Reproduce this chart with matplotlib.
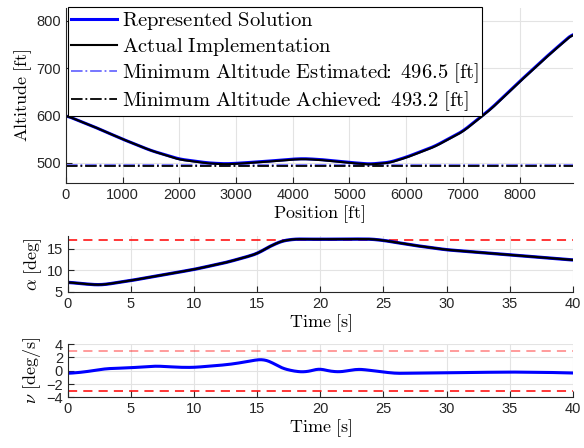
import numpy as np
import matplotlib
matplotlib.use('Agg')
import matplotlib.pyplot as plt

plt.rcParams['mathtext.fontset'] = 'cm'
plt.rcParams['font.family'] = ['Liberation Sans', 'DejaVu Sans']

# altitude vs position
pos = [0, 500, 1000, 1500, 2000, 2500, 2800, 3000, 3500, 4000, 4200, 4500,
       5000, 5350, 5700, 6000, 6500, 7000, 7500, 8000, 8500, 8940]
alt = [600, 576, 550, 526, 508, 500, 498, 499, 503, 508, 509, 507,
       501, 497.5, 501, 512, 535, 567, 615, 672, 727, 773]
alt_act = [600, 576, 550, 526, 507, 499, 497, 498, 502, 507, 508, 506,
           500, 496.5, 500, 511, 534, 566, 614, 671, 726, 772]
min_est = 496.5
min_ach = 493.2

# angle of attack vs time
t_a = [0, 1, 2, 2.5, 3, 5, 7.5, 10, 12.5, 14, 15, 16, 17, 18, 20, 22, 24, 25,
       27.5, 30, 32.5, 35, 37.5, 40]
alpha = [7.2, 6.9, 6.65, 6.6, 6.7, 7.6, 8.9, 10.2, 11.8, 13.0, 13.9, 15.6, 16.9,
         17.3, 17.25, 17.3, 17.3, 17.0, 15.8, 14.8, 14.2, 13.6, 13.0, 12.4]
alpha_lim = 17.0

# alpha rate vs time
t_n = [0, 1, 2, 3, 5, 7, 9, 10, 12, 13, 14, 15, 15.5, 16, 17, 18, 18.8, 19.5,
       20, 20.5, 21.5, 22.5, 23, 24, 25, 26, 30, 35, 38, 40]
nu = [-0.4, -0.25, 0.0, 0.3, 0.45, 0.7, 0.5, 0.5, 0.8, 1.0, 1.3, 1.65, 1.7, 1.4,
      0.35, -0.1, -0.2, 0.1, 0.35, 0.0, -0.2, 0.1, 0.25, 0.05, -0.2, -0.4,
      -0.3, -0.2, -0.25, -0.35]
nu_lim = 3.0


def smooth(x, y, n=400):
    xs = np.linspace(x[0], x[-1], n)
    ys = np.interp(xs, x, y)
    k = np.ones(9) / 9
    yp = np.pad(ys, 4, mode='edge')
    return xs, np.convolve(yp, k, mode='valid')


def rm(s):
    s = s.replace(': ', r'}\!\!:\ \mathrm{').replace(' ', r'\ ').replace(r'\\ ', '\\ ')
    return r'$\mathrm{' + s + '}$'


tc = '#262626'
gc = '#e3e3e3'


def style(ax):
    for s in ['top', 'right']:
        ax.spines[s].set_visible(False)
    for s in ['left', 'bottom']:
        ax.spines[s].set_color(tc)
        ax.spines[s].set_linewidth(0.8)
    ax.tick_params(direction='in', length=4, labelsize=10.5, colors=tc, width=0.8)
    ax.grid(True, color=gc, linewidth=0.8)
    ax.set_axisbelow(True)


fig = plt.figure(figsize=(5.84, 4.48), dpi=100)

ax1 = fig.add_axes([0.113, 0.591, 0.868, 0.391])
style(ax1)
ax1.axhline(min_est, color='#6b6bff', ls='-.', lw=1.3, label=rm('Minimum Altitude Estimated: 496.5 [ft]'))
ax1.axhline(min_ach, color='black', ls='-.', lw=1.3, label=rm('Minimum Altitude Achieved: 493.2 [ft]'))
xs, ys = smooth(pos, alt)
l1, = ax1.plot(xs, ys, color='#0000ff', lw=2.2, label=rm('Represented Solution'))
xs, ys = smooth(pos, alt_act)
l2, = ax1.plot(xs, ys, color='black', lw=1.5, label=rm('Actual Implementation'))
ax1.set_xlim(0, 8940)
ax1.set_ylim(457, 827)
ax1.set_xticks(np.arange(0, 8001, 1000))
ax1.set_yticks([500, 600, 700, 800])
ax1.set_xlabel(rm('Position [ft]'), fontsize=13, labelpad=1)
ax1.set_ylabel(rm('Altitude [ft]'), fontsize=13, labelpad=2)
h, lab = ax1.get_legend_handles_labels()
order = [2, 3, 0, 1]
leg = ax1.legend([h[i] for i in order], [lab[i] for i in order], loc='upper left',
                 bbox_to_anchor=(0.004, 1.005), fontsize=14.8, frameon=True, fancybox=False,
                 edgecolor='black', framealpha=1, handlelength=2.25, borderpad=0.15,
                 labelspacing=0.18, handletextpad=0.25, borderaxespad=0)
leg.get_frame().set_linewidth(0.8)

ax2 = fig.add_axes([0.116, 0.349, 0.865, 0.124])
style(ax2)
ax2.axhline(alpha_lim, color='red', ls=(0, (6, 4)), lw=1.1)
xs, ys = smooth(t_a, alpha)
ax2.plot(xs, ys, color='#0000ff', lw=2.4)
ax2.plot(xs, ys, color='black', lw=1.6)
ax2.set_xlim(0, 40)
ax2.set_ylim(5, 18)
ax2.set_yticks([5, 10, 15])
ax2.set_xticks(np.arange(0, 41, 5))
ax2.set_xlabel(rm('Time [s]'), fontsize=13, labelpad=1)
ax2.set_ylabel(r'$\alpha\ \mathrm{[deg]}$', fontsize=13, labelpad=2)

ax3 = fig.add_axes([0.116, 0.113, 0.865, 0.119])
style(ax3)
ax3.axhline(nu_lim, color='red', alpha=0.5, ls=(0, (6, 4)), lw=1.1)
ax3.axhline(-nu_lim, color='red', ls=(0, (6, 4)), lw=1.1)
xs, ys = smooth(t_n, nu)
ax3.plot(xs, ys, color='#0000ff', lw=2.2)
ax3.set_xlim(0, 40)
ax3.set_ylim(-4, 4)
ax3.set_yticks([-4, -2, 0, 2, 4])
ax3.set_xticks(np.arange(0, 41, 5))
ax3.set_xlabel(rm('Time [s]'), fontsize=13, labelpad=1)
ax3.set_ylabel(r'$\nu\ \mathrm{[deg/s]}$', fontsize=13, labelpad=2)

fig.savefig('out.png', dpi=100)
